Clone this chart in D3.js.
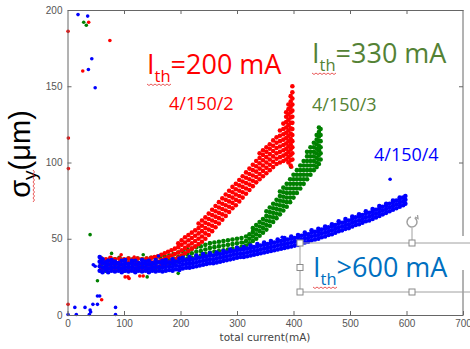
<!DOCTYPE html>
<html>
<head>
<meta charset="utf-8">
<script src="https://cdn.jsdelivr.net/npm/d3@7"></script>
<style>
  body { margin: 0; background: #fff; }
  svg { display: block; }
</style>
</head>
<body>
<div id="chart"></div>
<script>
// axis ticks
const xTicks = [0, 100, 200, 300, 400, 500, 600, 700];
const yTicks = [0, 50, 100, 150, 200];

// dense bands: [x, y, y, ...]
const redBand = [
  [60, 30.5, 34, 37], [68, 30, 33.5, 36.5], [76, 31, 34, 37.5], [84, 30.5, 33.5, 36.5],
  [92, 31, 34.5, 37], [100, 30, 33, 36.5], [108, 31, 34, 37], [116, 30.5, 33.5, 36.5],
  [124, 31, 34, 37], [132, 30, 33.5, 36.5], [140, 31, 34, 37], [148, 31, 34.5, 37.5],
  [154, 31.5, 34.5, 38], [160, 31.5, 35, 38.5], [166, 32.5, 36, 39.5], [172, 33.5, 37, 40.5],
  [178, 34.5, 38, 41.5], [184, 35.5, 39, 42.5], [190, 36.5, 40, 43.5], [196, 37.5, 41, 44.5, 47],
  [202, 39, 42.5, 46, 49], [208, 40.5, 44, 47.5, 51], [214, 42, 45.5, 49, 52.5], [220, 43.5, 47, 50.5, 54],
  [226, 45, 48.5, 52, 55.5], [232, 46.5, 50, 53.5, 57, 60], [238, 48, 51.5, 55, 58.5, 62],
  [244, 50, 53.5, 57, 60.5, 64], [250, 52.5, 56, 59.5, 63, 66.5], [256, 55, 58.5, 62, 65.5, 69],
  [262, 57.5, 61, 64.5, 68, 71.5], [268, 60, 63.5, 67, 70.5, 74], [274, 62.5, 66, 69.5, 73, 76.5],
  [280, 65, 68.5, 72, 75.5, 79], [286, 67.5, 71, 74.5, 78, 81.5], [292, 70, 73.5, 77, 80.5, 84],
  [298, 72, 75.5, 79, 82.5, 86], [304, 74.5, 78, 81.5, 85, 88.5], [310, 77, 80.5, 84, 87.5, 91],
  [316, 79.5, 83, 86.5, 90, 93.5], [322, 82, 85.5, 89, 92.5, 96], [328, 84.5, 88, 91.5, 95, 98.5],
  [334, 87, 90.5, 94, 97.5, 101], [340, 89, 92.5, 96, 99.5, 103, 106], [346, 91, 94.5, 98, 101.5, 105, 108],
  [352, 93, 96.5, 100, 103.5, 107, 110], [358, 95, 98.5, 102, 105.5, 109, 112],
  [364, 97, 100.5, 104, 107.5, 111, 114.5], [370, 99, 102.5, 106, 109.5, 113, 116.5],
  [376, 100, 103.5, 107, 110.5, 114, 117.5, 121], [382, 101, 104.5, 108, 111.5, 115, 118.5, 122, 125.5],
  [387, 102, 105.5, 109, 112.5, 116, 119.5, 123, 126.5, 130, 133],
  [391, 100, 103.5, 107, 110.5, 114, 117.5, 121, 124.5, 128, 131.5, 135, 138],
  [395, 98, 101.5, 105, 108.5, 112, 115.5, 119, 122.5, 126, 129.5, 133, 136.5, 140, 143.5],
  [398, 102, 106, 110, 114, 118, 122, 126, 130, 134, 138, 142, 146, 150]
];

const greenBand = [
  [60, 30, 33.5, 37], [68, 29, 32.5, 36], [76, 30.5, 34, 37], [84, 29.5, 33, 36.5],
  [92, 30, 33.5, 37.5], [100, 29, 32.5, 36], [108, 30, 33.5, 37], [116, 29.5, 33, 36.5],
  [124, 30, 33.5, 37], [132, 29, 32.5, 36.5], [140, 30, 33.5, 37], [148, 30, 33.5, 37.5],
  [156, 30.5, 34, 37.5], [164, 31, 34.5, 38], [172, 32, 35, 38.5], [180, 33, 36, 39],
  [188, 34, 37, 40], [196, 35, 38, 41], [204, 36, 39, 42], [212, 37, 40, 43],
  [220, 37.5, 40.5, 43.5], [228, 38.5, 41.5, 44.5], [236, 39, 42, 45], [244, 40, 43, 46],
  [252, 41, 44, 47], [260, 41.5, 44.5, 47.5], [268, 42, 45, 48], [276, 42.5, 45.5, 48.5],
  [284, 43, 46, 49], [292, 43.5, 46.5, 49.5], [300, 44, 47, 50], [308, 44.5, 47.5, 50.5],
  [316, 45.5, 48.5, 51.5], [322, 47, 50, 53], [328, 48.5, 51.5, 54.5, 57], [334, 50, 53, 56, 59],
  [340, 52, 55, 58, 61], [346, 54, 57, 60, 63], [352, 56, 59, 62, 65, 68],
  [358, 58.5, 61.5, 64.5, 67.5, 70.5], [364, 61, 64, 67, 70, 73], [370, 63.5, 66.5, 69.5, 72.5, 75.5],
  [376, 66, 69, 72, 75, 78, 81], [382, 68.5, 71.5, 74.5, 77.5, 80.5, 83.5], [388, 71, 74, 77, 80, 83, 86],
  [394, 74, 77, 80, 83, 86, 89], [400, 77, 80, 83, 86, 89, 92], [406, 80, 83, 86, 89, 92, 95],
  [412, 83, 86, 89, 92, 95, 98], [418, 86, 89, 92, 95, 98, 101], [424, 89, 92, 95, 98, 101, 104, 107],
  [430, 92, 95, 98, 101, 104, 107, 110], [436, 95, 98, 101, 104, 107, 110, 113],
  [441, 97, 100, 103, 106, 109, 112, 115, 118], [445, 99, 102, 105, 108, 111, 114, 117, 120, 123],
  [448, 102, 106, 110, 114, 118, 122]
];

const blueBand = [
  [57, 29, 32, 35, 38], [62, 28, 31, 34, 36.5], [67, 29.5, 32, 34.5], [72, 28, 30.5, 33, 35.5],
  [78, 29, 31.5, 34, 36], [84, 28.5, 31, 33.5, 35], [90, 29, 31.5, 34], [96, 28, 30.5, 33, 35.5],
  [102, 29, 31.5, 34, 36], [108, 28.5, 31, 33.5], [114, 29, 31.5, 34, 35.5], [120, 28, 30.5, 33, 35.5],
  [126, 29, 31.5, 34], [132, 28.5, 31, 33.5, 36], [138, 29, 31.5, 34, 35], [144, 28, 30.5, 33, 35.5],
  [150, 29, 31.5, 34], [156, 28.5, 31, 33.5, 36], [162, 29, 31.5, 34.5], [168, 28.5, 31, 33.5, 35.5],
  [174, 29, 31.5, 34, 36], [180, 29.5, 32, 34.5], [186, 29, 31.5, 34, 36.5], [192, 30, 32.5, 35],
  [198, 29.5, 32, 34.5, 37], [204, 30.5, 33, 35.5, 37.5], [210, 31, 33.5, 36], [216, 31, 33.5, 36, 38],
  [222, 31.5, 34, 36.5], [228, 32, 34.5, 37, 39], [234, 32.5, 35, 37.5], [240, 33, 35.5, 38, 40],
  [246, 33.5, 36, 38.5], [252, 34, 36.5, 39, 40.5], [258, 34, 36.5, 39], [264, 34.5, 37, 39.5, 41],
  [270, 35, 37.5, 40], [276, 35.5, 38, 40.5, 42], [282, 36, 38.5, 41], [288, 36.5, 39, 41.5, 43],
  [294, 37, 39.5, 42], [300, 37.5, 40, 42.5, 44], [306, 38, 40.5, 43], [312, 38, 40.5, 43, 44.5],
  [318, 38.5, 41, 43.5], [324, 39, 41.5, 44, 45.5], [330, 39.5, 42, 44.5], [336, 40, 42.5, 45, 46.5],
  [342, 40.5, 43, 45.5], [348, 41, 43.5, 46, 47.5], [354, 41.5, 44, 46.5], [360, 42, 44.5, 47, 48.5],
  [366, 42.5, 45, 47.5], [372, 43, 45.5, 48, 49.5], [378, 43.5, 46, 48.5], [384, 44, 46.5, 49, 50.5],
  [390, 44.5, 47, 49.5], [396, 45, 47.5, 50, 51.5], [402, 45.5, 48, 50.5], [408, 46, 48.5, 51, 52.5],
  [414, 47, 49.5, 52], [420, 47.5, 50, 52.5, 54], [426, 48, 50.5, 53], [432, 49, 51.5, 54, 55.5],
  [438, 49.5, 52, 54.5], [444, 50, 52.5, 55, 56.5], [450, 51, 53.5, 56], [456, 51.5, 54, 56.5, 58],
  [462, 52.5, 55, 57.5], [468, 53, 55.5, 58, 59.5], [474, 54, 56.5, 59], [480, 55, 57.5, 60, 61.5],
  [486, 55.5, 58, 60.5], [492, 56.5, 59, 61.5, 63], [498, 57, 59.5, 62], [504, 58, 60.5, 63, 64.5],
  [510, 59, 61.5, 64], [516, 59.5, 62, 64.5, 66], [522, 60.5, 63, 65.5], [528, 61.5, 64, 66.5, 68],
  [534, 62, 64.5, 67], [540, 63, 65.5, 68, 69.5], [546, 64, 66.5, 69], [552, 65, 67.5, 70, 71.5],
  [558, 66, 68.5, 71], [564, 67, 69.5, 72, 73], [570, 68, 70.5, 73], [576, 69, 71.5, 74, 75],
  [582, 70, 72.5, 75], [588, 71, 73.5, 76, 77], [594, 72, 74.5, 77], [598, 73, 75.5, 78]
];

// scattered single points [x, y]
const redLoose = [
  [1, 186], [37.5, 192], [75, 180], [27, 160], [1.5, 116], [1.5, 96], [1, 7], [60.5, 10],
  [95, 39.5], [118, 38], [102, 25], [107, 25], [128, 25.6], [109, 24], [134, 25.6], [397, 97]
];
const greenLoose = [
  [28.7, 192], [33.3, 190], [40, 52.7], [53, 22.5], [78, 40.4], [134, 39.5], [141, 25],
  [196, 27.3], [211, 43.5], [252, 47.4], [311, 47.4], [328, 54], [395, 97]
];
const blueLoose = [
  [18.6, 197], [35.7, 196], [43, 168], [37, 161], [49, 149], [13, 5], [15.6, 0.3], [31, 5],
  [40, 3.3], [41, 2], [45, 7], [53, 7], [53, 12.5], [57, 12.5], [85, 5], [85, 0.3], [1, 0.3],
  [38.6, 0.3], [45.6, 33], [49, 32], [161, 38.7], [380, 51], [571, 89]
];

const W = 470, H = 349;
const svg = d3.select('#chart').append('svg')
  .attr('width', W)
  .attr('height', H)
  .style('font-family', '"DejaVu Sans", sans-serif');

const x = d3.scaleLinear().domain([0, 700]).range([67.5, 463]);
const y = d3.scaleLinear().domain([0, 200]).range([315, 10]);

const axisColor = '#666';

// points
const flat = rows => rows.flatMap(([px, ...ys]) => ys.map(py => [px, py]));
const series = [
  { band: flat(greenBand), loose: greenLoose, color: '#008000' },
  { band: flat(redBand), loose: redLoose, color: '#ff0000' },
  { band: flat(blueBand), loose: blueLoose, color: '#0000ff' }
];
const dots = svg.append('g').attr('class', 'dots');
series.forEach(s => {
  const g = dots.append('g').attr('fill', s.color);
  g.selectAll('circle.band')
    .data(s.band)
    .join('circle')
    .attr('class', 'band')
    .attr('cx', d => x(d[0]))
    .attr('cy', d => y(d[1]))
    .attr('r', 2.3);
  g.selectAll('circle.loose')
    .data(s.loose)
    .join('circle')
    .attr('class', 'loose')
    .attr('cx', d => x(d[0]))
    .attr('cy', d => y(d[1]))
    .attr('r', 1.8);
});

// axes (ticks point inward)
const styleAxis = g => {
  g.selectAll('path, line').attr('stroke', axisColor);
  g.selectAll('text').attr('fill', '#555').style('font-size', '10px');
};

svg.append('g')
  .attr('transform', `translate(0,${y(0)})`)
  .call(d3.axisBottom(x).tickValues(xTicks).tickSize(-4).tickSizeOuter(0).tickPadding(5))
  .call(styleAxis);

svg.append('g')
  .attr('transform', `translate(${x(0)},0)`)
  .call(d3.axisLeft(y).tickValues(yTicks).tickSize(-4).tickSizeOuter(0).tickPadding(5))
  .call(styleAxis);

svg.append('g')
  .attr('transform', `translate(0,${y(200)})`)
  .call(d3.axisTop(x).tickValues(xTicks.slice(1, -1)).tickSize(-4).tickSizeOuter(0).tickFormat(''))
  .call(styleAxis);

// right side: ticks and border, broken where the text box sits
const gapTop = 236, gapBottom = 270;
const right = svg.append('g')
  .attr('transform', `translate(${x(700)},0)`)
  .call(d3.axisRight(y).tickValues(yTicks.filter(v => y(v) < gapTop || y(v) > gapBottom).slice(1, -1))
    .tickSize(-4).tickFormat(''))
  .call(styleAxis);
right.select('.domain').remove();
right.append('line').attr('x1', 0).attr('x2', 0).attr('y1', y(200)).attr('y2', gapTop).attr('stroke', axisColor);
right.append('line').attr('x1', 0).attr('x2', 0).attr('y1', gapBottom).attr('y2', y(0)).attr('stroke', axisColor);

// axis titles
svg.append('text')
  .attr('x', 265).attr('y', 341)
  .attr('text-anchor', 'middle')
  .attr('fill', '#444')
  .style('font-size', '10.5px')
  .text('total current(mA)');

const yl = svg.append('text')
  .attr('transform', 'translate(30,154) rotate(-90)')
  .attr('text-anchor', 'middle')
  .attr('fill', '#000')
  .style('font-family', '"Liberation Sans", Arial, sans-serif')
  .style('font-size', '29px');
yl.append('tspan').text('σ');
yl.append('tspan').attr('dy', 6).style('font-size', '19px').text('y');
yl.append('tspan').attr('dy', -6).text('(μm)');

// annotations
const label = (px, py, main, rest, color) => {
  const t = svg.append('text')
    .attr('x', px).attr('y', py)
    .attr('fill', color)
    .style('font-family', '"Open Sans", sans-serif')
    .style('font-size', '27px');
  t.append('tspan').text(main);
  t.append('tspan').attr('dy', 8).style('font-size', '16.5px').text('th');
  t.append('tspan').attr('dy', -8).text(rest);
};
label(147, 74, 'I', '=200 mA', '#ff0000');
label(312, 63, 'I', '=330 mA', '#548235');
label(313, 277, 'I', '>600 mA', '#0070c0');

const small = (px, py, txt, color) => svg.append('text')
  .attr('x', px).attr('y', py)
  .attr('fill', color)
  .style('font-family', '"Open Sans", sans-serif')
  .style('font-size', '18px')
  .text(txt);
small(169, 110, '4/150/2', '#ff0000');
small(312, 111, '4/150/3', '#548235');
small(374, 161, '4/150/4', '#0000ff');

// spell-check squiggles
const squiggle = (x0, x1, yy) => {
  const p = d3.path();
  p.moveTo(x0, yy);
  for (let i = x0 + 2, k = 0; i <= x1; i += 2, k++) p.lineTo(i, yy + (k % 2 ? 0 : 1.5));
  svg.append('path').attr('d', p.toString()).attr('fill', 'none').attr('stroke', '#e53030').attr('stroke-width', 0.8);
};
squiggle(147, 171, 84);
squiggle(312, 336, 73);
squiggle(313, 337, 287);
const vs = d3.path();
vs.moveTo(33, 202);
for (let i = 200, k = 0; i >= 170; i -= 2, k++) vs.lineTo(33 + (k % 2 ? 0 : 1.5), i);
svg.append('path').attr('d', vs.toString()).attr('fill', 'none').attr('stroke', '#e53030').attr('stroke-width', 0.8);

// text box selection frame
const box = svg.append('g').attr('stroke', '#a0a0a0').attr('fill', 'none');
box.append('line').attr('x1', 300).attr('x2', 470).attr('y1', 243).attr('y2', 243);
box.append('line').attr('x1', 300).attr('x2', 470).attr('y1', 292).attr('y2', 292);
box.append('line').attr('x1', 300).attr('x2', 300).attr('y1', 243).attr('y2', 292);
box.append('line').attr('x1', 412).attr('x2', 412).attr('y1', 228).attr('y2', 243);
box.append('path')
  .attr('d', d3.arc()({ innerRadius: 5, outerRadius: 5, startAngle: 0.6, endAngle: 2 * Math.PI - 0.2 }))
  .attr('transform', 'translate(412,222)')
  .attr('stroke-width', 1.5);
box.append('path').attr('d', 'M415,217 l3,1.5 l-0.5,-3.5').attr('stroke-width', 1.3);
[[300, 243], [412, 243], [300, 267.5], [300, 292], [412, 292]].forEach(([hx, hy]) => {
  box.append('rect')
    .attr('x', hx - 3).attr('y', hy - 3)
    .attr('width', 6).attr('height', 6)
    .attr('fill', '#fff').attr('stroke', '#8a8a8a');
});
</script>
</body>
</html>
